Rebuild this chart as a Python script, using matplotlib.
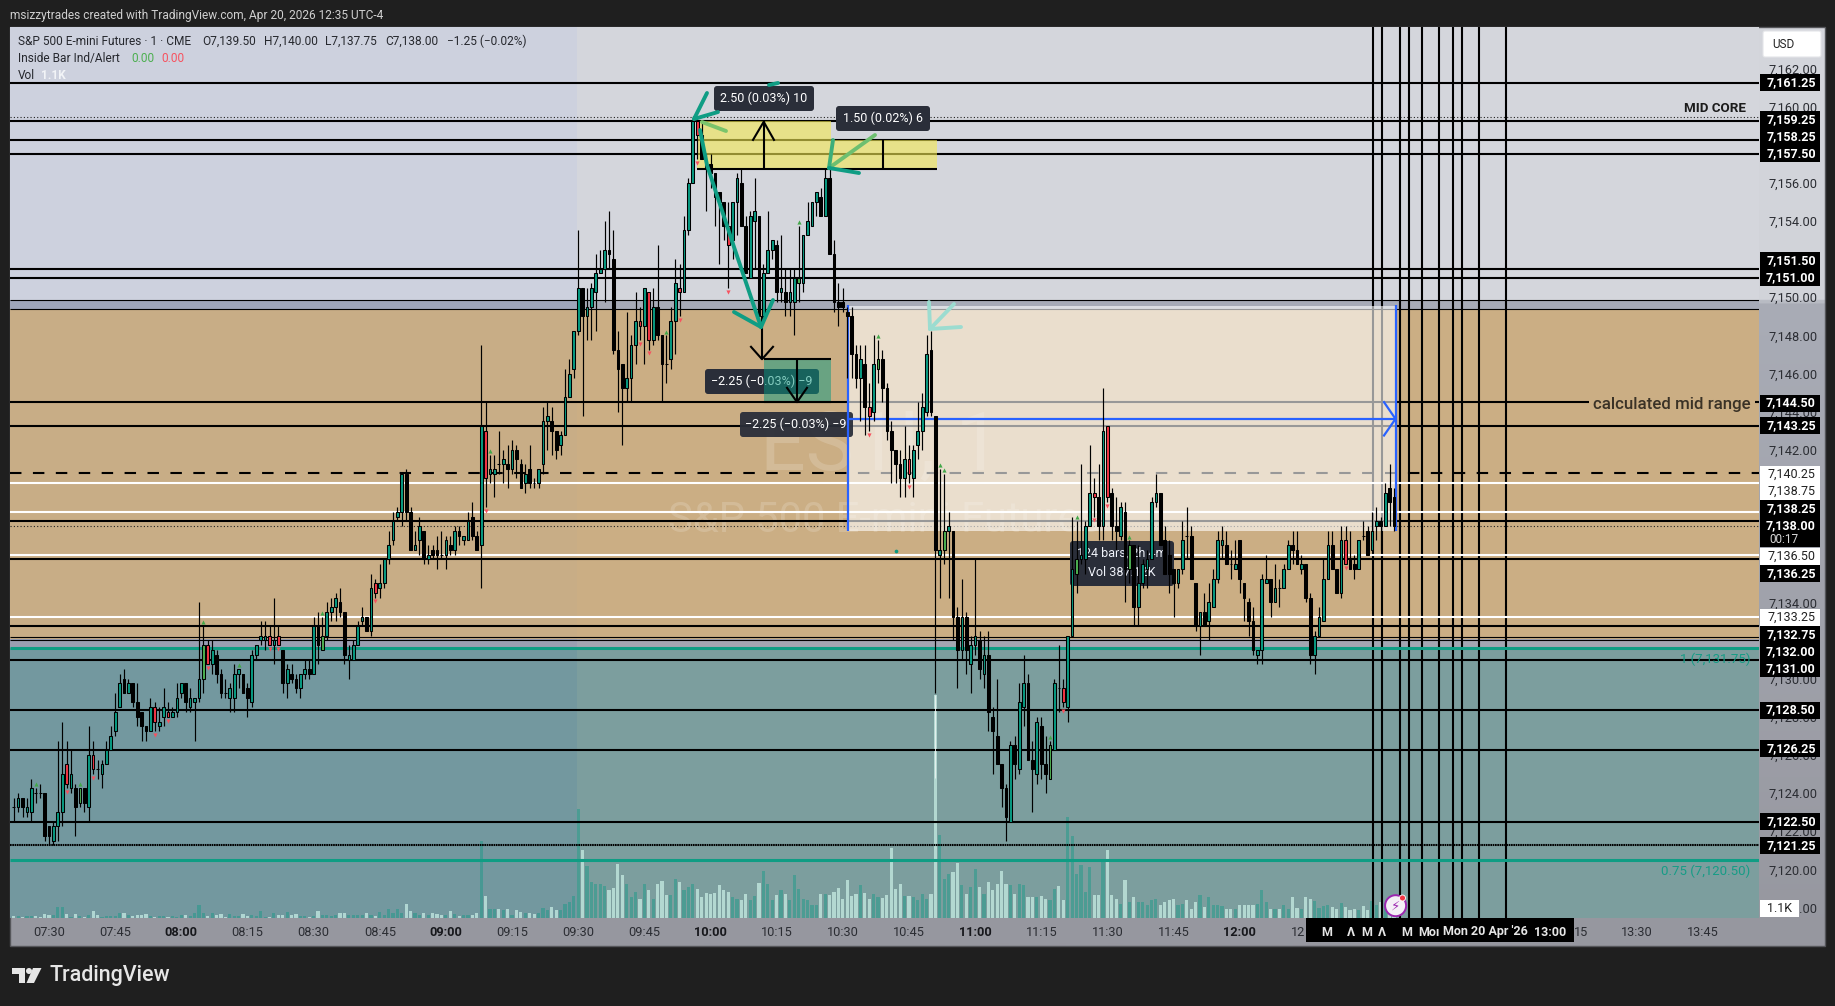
import numpy as np
import matplotlib
matplotlib.use('Agg')
import matplotlib.pyplot as plt
from matplotlib.colors import LinearSegmentedColormap
from matplotlib.patches import FancyBboxPatch, Polygon, Circle, Rectangle
from matplotlib.transforms import Affine2D

plt.rcParams['font.family'] = ['Roboto', 'DejaVu Sans']

W, H = 1835, 1006

# candles, one per minute from 07:22, prices above 7100
price_base = 7100
opens = [
    23.25,23.25,23.75,23.0,23.0,24.0,24.0,24.0,22.25,21.5,
    22.25,23.0,25.5,24.25,24.25,23.5,24.25,23.25,26.0,25.25,
    25.0,25.5,26.25,27.25,28.5,30.0,29.25,29.75,28.75,28.25,
    27.5,27.25,28.5,27.5,28.0,28.25,28.0,28.25,29.25,29.75,
    28.5,28.75,29.0,30.0,31.75,30.75,31.25,30.25,29.25,29.0,
    29.0,30.25,30.25,29.5,28.75,31.25,32.0,32.0,32.25,31.75,
    32.25,31.5,29.75,30.25,30.0,29.5,30.25,30.5,30.25,32.75,
    31.5,32.25,33.5,33.75,34.0,33.5,31.0,31.0,31.75,33.0,
    33.25,32.5,35.0,34.75,35.0,36.25,37.25,38.5,38.75,40.75,
    38.75,36.75,37.25,37.75,36.25,36.75,36.75,36.5,36.5,37.0,
    36.75,37.75,37.25,37.25,38.5,37.5,37.0,43.0,40.75,40.75,
    41.25,41.25,41.25,41.0,42.0,41.25,40.25,41.0,40.25,40.25,
    41.25,43.5,43.5,43.0,42.25,42.75,44.75,46.25,48.25,50.5,
    49.0,49.5,50.25,51.25,51.5,52.5,52.0,47.25,46.5,45.25,
    45.75,47.5,48.75,48.5,50.25,47.75,49.5,48.0,46.5,46.75,
    48.75,50.5,50.25,53.5,56.0,59.25,58.5,57.0,57.0,56.5,
    55.5,55.0,53.75,53.0,55.0,56.0,53.75,51.0,54.0,54.25,
    49.0,51.25,52.5,52.75,50.25,50.25,49.75,49.75,50.75,50.75,
    53.25,53.75,55.0,55.25,54.25,56.25,52.25,49.75,49.75,49.25,
    49.0,47.0,45.75,46.5,44.25,44.0,46.25,46.75,45.25,43.0,
    42.0,41.25,40.5,41.5,40.5,42.25,43.0,44.0,47.25,43.75,
    36.5,36.75,37.75,37.75,33.25,31.5,33.25,30.75,31.75,32.0,
    30.25,31.25,28.0,27.0,25.5,24.25,22.5,26.5,25.25,28.5,
    29.75,25.75,25.0,27.5,25.5,24.75,26.25,29.5,29.5,28.5,
    32.25,35.5,36.25,36.25,38.0,39.75,39.5,38.0,43.25,39.75,
    38.0,37.5,38.75,35.75,37.0,33.75,35.0,35.75,36.25,39.25,
    39.75,37.25,36.5,35.75,35.0,35.75,37.5,37.5,35.0,32.75,
    33.5,33.0,33.75,35.25,37.0,37.0,36.0,35.75,37.25,35.0,
    34.0,33.0,31.25,31.5,35.0,35.25,34.0,34.75,34.75,35.75,
    37.0,36.75,35.75,36.0,34.25,31.25,32.25,33.0,35.25,37.0,
    35.75,34.5,37.25,36.25,36.0,35.75,37.5,37.75,36.75,38.0,
    38.25,38.0,40.0,39.5]
highs = [
    23.75,24.0,23.75,23.75,24.75,24.25,24.5,24.0,22.25,22.5,
    26.75,27.75,26.75,26.25,24.5,24.25,24.25,27.5,26.75,25.75,
    25.75,26.75,27.5,29.25,30.25,30.5,30.0,29.75,29.75,28.25,
    27.5,29.0,28.75,28.5,29.5,28.75,28.5,29.75,29.75,29.75,
    29.5,29.0,34.0,32.75,32.0,32.0,31.5,30.5,30.0,29.75,
    30.75,30.5,30.25,29.75,31.5,31.75,33.0,33.0,32.75,34.25,
    32.75,31.5,30.75,30.75,30.25,30.25,31.0,31.0,33.25,33.5,
    33.25,34.0,34.25,34.5,34.75,33.5,31.75,32.0,33.0,33.75,
    33.25,35.5,35.25,36.0,36.25,37.75,38.75,39.0,40.75,41.0,
    39.0,37.75,38.5,37.75,37.0,37.0,37.5,37.75,37.5,37.5,
    38.0,38.0,37.5,38.75,39.25,37.75,47.5,44.5,41.75,41.75,
    43.0,42.0,42.25,42.5,42.25,41.5,41.25,42.25,40.5,41.0,
    44.25,44.5,44.25,43.0,43.0,46.25,46.75,48.25,53.5,50.5,
    50.5,50.75,52.25,52.5,54.0,54.5,53.5,48.25,46.5,49.25,
    48.0,50.25,49.5,50.5,50.25,50.5,52.75,48.0,48.0,49.5,
    52.0,51.75,54.25,56.25,59.5,59.5,59.25,57.5,57.5,56.5,
    55.5,55.0,55.0,55.0,56.5,56.75,54.25,54.5,56.25,54.25,
    51.75,54.5,53.0,53.0,53.25,51.5,51.5,51.5,53.75,53.25,
    55.0,55.0,55.5,55.75,56.75,56.75,53.0,50.75,50.5,49.5,
    49.5,47.5,47.5,47.5,45.5,48.0,47.75,47.25,45.5,43.5,
    42.0,42.0,43.25,42.25,42.25,44.5,45.0,48.0,48.25,43.75,
    41.0,40.75,38.75,37.75,33.75,35.25,33.5,32.25,36.25,32.5,
    32.25,32.5,28.5,30.0,25.5,24.5,26.75,27.0,29.75,31.25,
    30.25,26.75,28.0,28.0,27.0,26.75,30.0,31.75,30.0,32.25,
    38.5,38.25,41.25,38.25,42.25,40.5,41.25,45.25,43.25,40.0,
    39.5,39.25,39.25,37.25,37.0,37.0,36.25,36.75,39.5,40.75,
    39.75,38.0,37.25,35.75,35.75,38.25,39.0,38.0,35.0,33.5,
    34.5,35.0,35.75,37.75,38.0,37.75,36.75,37.25,37.25,35.0,
    34.25,33.75,31.5,35.5,36.5,35.25,36.0,35.25,36.0,37.25,
    37.75,37.75,36.5,36.0,34.5,32.5,33.75,36.25,37.75,37.75,
    35.75,38.0,38.0,37.75,36.5,37.25,38.25,38.0,38.75,39.0,
    38.5,40.25,41.25,40.0]
lows = [
    22.5,23.0,22.75,22.75,22.5,23.5,23.75,21.5,21.25,21.25,
    21.5,22.25,24.25,24.0,21.75,23.25,23.0,22.5,25.0,24.75,
    24.25,25.5,26.25,27.0,28.5,29.25,29.25,28.5,27.5,26.75,
    26.75,27.25,27.25,27.25,27.5,28.0,28.0,28.0,29.0,28.25,
    28.25,26.75,28.75,29.25,30.75,30.25,29.75,29.0,29.0,28.25,
    28.25,29.5,29.25,28.0,28.5,31.0,31.75,31.5,31.75,30.75,
    31.75,29.25,29.0,29.75,29.25,29.0,30.0,30.0,30.25,30.75,
    31.5,32.0,33.0,33.0,33.25,30.75,30.0,31.0,31.75,32.75,
    32.5,32.25,34.25,34.25,34.75,36.0,37.0,38.25,38.0,38.25,
    36.75,36.75,36.5,36.0,36.0,36.25,35.75,36.25,35.75,36.5,
    36.5,37.0,37.0,37.25,37.25,36.75,34.75,39.0,40.25,39.5,
    40.75,40.25,40.0,40.75,40.5,40.0,39.75,40.0,40.0,40.0,
    40.75,42.0,41.75,41.5,41.75,42.75,44.75,45.75,48.0,43.75,
    47.75,47.75,48.25,51.25,49.75,51.5,47.0,44.0,42.25,44.5,
    44.5,46.5,47.75,46.5,47.25,47.5,47.75,44.5,45.5,46.25,
    47.0,49.0,50.25,53.25,56.0,57.25,57.25,54.5,55.75,53.75,
    51.75,53.0,50.5,52.0,53.25,53.75,51.25,51.0,51.5,49.0,
    48.75,51.25,52.0,49.75,49.75,49.0,49.0,48.0,49.75,50.25,
    53.25,53.75,54.25,54.25,54.25,52.25,49.25,48.5,49.25,45.75,
    45.75,45.25,43.5,42.75,43.0,43.5,45.5,44.5,42.5,40.25,
    40.25,39.5,39.5,40.25,39.5,41.5,42.0,43.75,43.75,29.25,
    34.25,36.0,34.25,32.0,29.5,31.0,30.25,29.25,31.25,30.0,
    29.5,27.25,25.0,25.5,23.25,21.5,22.5,24.75,25.0,27.5,
    25.75,23.0,24.5,24.75,24.0,24.75,26.25,28.25,28.5,27.75,
    32.25,34.5,36.0,35.5,38.0,38.5,37.25,37.25,39.25,37.25,
    36.75,37.25,34.0,35.0,32.75,32.75,34.75,34.75,36.25,39.0,
    37.0,35.5,34.5,33.25,34.75,35.5,36.25,35.25,32.5,31.25,
    32.75,32.0,33.75,35.0,36.25,36.0,35.25,35.75,34.5,33.0,
    32.25,31.25,30.75,30.75,35.0,33.25,34.0,33.75,34.75,35.75,
    36.0,36.0,35.5,34.0,30.75,30.25,32.25,33.0,35.25,35.75,
    34.5,34.25,36.0,35.75,35.25,35.75,37.25,36.5,36.75,37.25,
    36.75,38.0,38.0,37.75]
closes = [
    23.25,23.75,23.25,23.25,24.25,24.0,24.0,21.75,21.75,22.25,
    23.0,25.0,24.5,25.0,23.25,24.25,23.5,26.0,25.25,25.25,
    25.5,26.25,27.0,28.25,29.75,29.25,29.75,28.75,28.0,27.5,
    27.25,28.5,27.75,27.75,28.5,28.0,28.25,29.0,29.75,28.75,
    29.0,29.0,30.0,31.75,30.75,31.5,30.25,29.25,29.25,29.5,
    30.25,30.5,29.25,29.0,31.25,31.75,32.25,32.25,31.75,32.0,
    31.75,29.75,30.5,30.0,29.5,30.25,30.5,30.25,32.75,31.75,
    32.25,33.5,33.75,34.25,33.5,31.25,31.25,31.75,32.75,33.25,
    32.5,34.75,34.5,35.0,36.25,37.0,38.25,38.75,40.75,38.75,
    36.75,37.0,38.0,36.25,36.5,36.5,36.5,36.5,37.25,36.75,
    37.75,37.5,37.5,38.25,37.5,36.75,43.25,40.5,41.0,41.0,
    41.25,41.5,41.0,42.0,41.5,40.0,40.75,40.25,40.25,41.0,
    43.5,43.75,43.0,42.0,42.75,44.75,46.0,48.25,50.5,49.0,
    49.5,50.5,51.25,51.5,52.5,52.25,47.25,46.25,45.25,45.75,
    47.5,48.75,48.5,50.5,47.75,49.5,48.0,46.5,46.5,48.75,
    50.75,50.25,53.5,56.0,59.25,58.5,57.25,56.75,56.5,55.25,
    55.0,53.75,52.75,55.0,56.25,53.75,51.25,54.25,54.5,49.0,
    51.25,52.5,53.0,50.25,50.5,49.75,50.25,51.0,51.0,53.25,
    54.0,55.0,55.5,54.25,56.25,52.25,49.75,49.5,49.5,49.0,
    47.0,45.75,46.75,44.25,43.75,46.5,46.75,45.25,43.0,42.0,
    41.25,40.5,41.5,40.75,42.0,43.0,44.25,47.0,44.0,36.75,
    36.75,37.75,38.0,33.25,31.5,33.25,31.5,31.75,32.25,30.5,
    31.25,28.25,27.25,25.5,24.25,22.75,26.5,25.5,28.75,29.75,
    25.75,25.25,27.75,25.5,25.0,26.5,29.75,29.5,28.75,32.25,
    35.75,36.25,36.5,38.0,39.75,39.5,38.0,43.0,39.5,38.0,
    37.75,39.0,35.75,37.0,33.75,35.0,36.0,36.25,39.25,39.75,
    37.0,35.5,35.5,35.0,35.75,37.25,37.5,35.25,32.75,33.5,
    32.75,34.0,35.25,37.25,37.25,36.0,36.0,36.0,35.25,34.25,
    33.0,31.5,31.5,35.25,35.25,34.0,34.75,34.75,35.75,37.0,
    36.75,36.0,36.0,34.25,31.25,32.25,33.25,35.25,37.0,35.75,
    34.5,37.25,36.0,35.75,35.75,37.25,37.5,36.5,37.75,38.25,
    38.0,39.75,39.25,38.0]
# thousands of contracts
volumes = [
    .2,.2,.16,.24,.2,.24,.16,.48,.4,.32,
    1.28,1.28,.48,.16,.48,.24,.16,.32,.88,.32,
    .16,.24,.2,.24,.56,.56,.4,.2,.32,.4,
    .48,.24,.16,.24,.2,.16,.24,.16,.32,.32,
    .24,.56,1.6,.56,.2,.56,.32,.48,.16,.48,
    .24,.24,.48,.2,.32,.24,.88,.16,.16,.64,
    .4,.32,.72,.4,.48,.24,.24,.16,.24,.88,
    .4,.32,.24,.4,.56,.64,.32,.4,.4,.4,
    .64,.4,.24,.72,.32,1.12,.56,1.12,.56,1.68,
    .8,.56,.4,.56,.32,.56,.48,.32,.32,.8,
    .48,.24,.4,.4,.4,.56,9.2,2.6,1.12,1.04,
    1.12,.96,1.04,.4,.96,.72,.56,.56,.48,.6,
    1.2,1.0,1.32,.92,.92,1.64,1.92,2.6,13.12,8.12,
    6.2,4.28,4.04,4.04,3.88,3.4,3.56,6.52,5.12,4.12,
    2.52,3.12,2.32,4.04,3.4,2.32,4.04,4.4,2.72,2.8,
    4.64,4.32,3.4,3.72,4.12,3.52,2.52,3.04,2.84,3.04,
    3.92,3.32,3.12,2.52,2.24,2.12,2.92,2.12,2.6,4.24,
    5.6,4.12,2.12,2.72,3.32,2.92,2.12,5.12,3.52,2.32,
    2.2,1.52,1.52,2.92,2.92,2.72,3.12,3.6,2.32,4.52,
    2.64,2.92,3.92,3.0,2.32,2.92,2.52,2.4,2.72,8.4,
    3.52,4.04,2.6,2.6,2.52,2.12,2.92,2.32,2.84,26.72,
    9.92,4.72,5.32,5.52,6.64,3.92,2.92,3.72,5.84,3.72,
    2.92,4.32,3.32,4.12,5.6,4.12,3.92,2.92,4.12,3.92,
    2.52,2.52,2.52,2.6,2.32,2.12,3.52,3.8,2.12,12.12,
    9.8,5.32,6.32,3.12,6.12,2.72,2.72,6.72,8.12,2.72,
    2.32,1.72,4.52,1.92,2.52,1.92,1.92,1.6,2.12,2.32,
    1.52,1.92,2.12,2.32,1.52,1.72,2.12,1.12,1.92,2.8,
    1.32,2.52,1.52,1.6,1.44,1.12,1.12,1.12,1.52,1.6,
    1.52,1.52,1.72,3.32,1.92,1.12,1.12,1.12,1.52,1.12,
    2.52,1.24,1.08,2.52,2.32,2.0,1.2,1.4,1.52,1.32,
    1.12,1.84,1.32,1.0,1.12,.92,1.4,1.0,2.0,1.6,
    1.92,1.8,1.6,1.1]

red_bars = [12,18,32,35,44,58,60,82,107,142,144,151,155,162,194,203,238,245,248,302]
green_bars = [15,43,70,178,196,211,235,241,253]
green_marks = [5,15,43,51,70,108,148,178,196,210,211,235,241,253]

black_levels = [7161.25,7159.25,7158.25,7157.50,7151.50,7151.00,7144.50,7143.25,7138.25,
                7136.25,7132.75,7131.00,7128.35,7126.25,7122.50]
thin_levels = [7149.85,7149.37,7132.17,7132.00]
white_levels = [7140.25,7138.75,7136.50,7133.25]
teal_levels = [7131.60,7120.50]
tick_prices = [7162,7160,7156,7154,7150,7148,7146,7144,7142,7134,7130,7128,7126,7124,7122,7120,7118]

badge_prices = [7161.25,7159.25,7158.25,7157.50,7151.50,7151.00,7144.50,7143.25,7140.25,7138.75,
                7138.25,7138.00,7136.50,7136.25,7133.25,7132.75,7132.00,7131.00,7128.50,7126.25,
                7122.50,7121.25]
white_badges = [7140.25,7138.75,7136.50,7133.25]
# labels under the crosshair strip stay blank, its pieces are placed further down
time_labels = ['07:30','07:45','08:00','08:15','08:30','08:45','09:00','09:15','09:30','09:45',
               '10:00','10:15','10:30','10:45','11:00','11:15','11:30','11:45','12:00','',
               '','','','','13:30','13:45']
vline_bars = [308.2,310.3,314.3,316.4,319.3,323.2,326.4,328.4,332.2,338.4]

# pixel layout of the screenshot
bar0_x, bar_w = 13.72, 4.41
p0_y, p_h = 82.7, 19.07
L, R, T, B = 10, 1759, 27, 918
badge_y = [82.7,119.7,136.7,153.7,260.7,277.7,403,425.7,474.7,491.7,508.7,525.7,556.3,573.7,
           617.7,634.7,651.7,668.7,710,748.7,821.7,845.7]


def bar_at(x):
    return (x - bar0_x) / bar_w


def price_at(y):
    return 7161.25 - (y - p0_y) / p_h


px = Affine2D().scale(1, -1).translate(0, H)
fig = plt.figure(figsize=(W / 100, H / 100), dpi=100, facecolor='#1f1f1f')

# outer panel, light above the tan zone and grey below it
ax_panel = fig.add_axes([L / W, 1 - 946 / H, 1814 / W, 919 / H], zorder=-2)
cm = LinearSegmentedColormap.from_list('panel', [(0, '#d4d6dc'), (0.295, '#d1d3d9'), (0.3, '#a9acb6'), (1, '#96979f')])
ax_panel.imshow(np.linspace(0, 1, 512).reshape(-1, 1), cmap=cm, aspect='auto')
ax_panel.axis('off')
fig.add_artist(Rectangle((9.5, 26.5), 1815, 919.5, transform=px, fill=False, ec='#55565a', lw=1, zorder=-1))

rect = [L / W, 1 - B / H, (R - L) / W, (B - T) / H]
xlim = (bar_at(L), bar_at(R))
ylim = (price_at(B), price_at(T))

# chart background zones, session tint on the left
ax_bg = fig.add_axes(rect, zorder=0)
ax_bg.set_xlim(xlim)
ax_bg.set_ylim(ylim)
ax_bg.axis('off')
session_start = bar_at(576.5)
zones = [(ylim[1], 7149.85, '#cdd1de', '#d4d6dc'),
         (7149.85, 7149.37, '#9fa6ba', '#a7abb7'),
         (7149.37, 7132.1, '#c8ad86', '#cbae84'),
         (7132.1, 7131.6, '#9a9fb2', '#a3a6b2'),
         (7131.6, ylim[0], '#73989f', '#7c9e9e')]
for top, bot, left_c, right_c in zones:
    ax_bg.add_patch(Rectangle((xlim[0], bot), session_start - xlim[0], top - bot, fc=left_c, lw=0))
    ax_bg.add_patch(Rectangle((session_start, bot), xlim[1] - session_start, top - bot, fc=right_c, lw=0))
ax_bg.text(880, 448, 'ES1!, 1', transform=px, fontsize=58, color='white', alpha=0.17, ha='center', va='center')
ax_bg.text(884, 520, 'S&P 500 E-mini Futures', transform=px, fontsize=30, color='white', alpha=0.17, ha='center', va='center')

x = np.arange(len(opens))
o = np.array(opens) + price_base
h = np.array(highs) + price_base
l = np.array(lows) + price_base
c = np.array(closes) + price_base
v = np.array(volumes)

# volume pane under the candles
ax_vol = fig.add_axes(rect, zorder=1)
ax_vol.set_xlim(xlim)
ax_vol.set_ylim(0, (B - T) * 0.12)
ax_vol.axis('off')
for xi, vi, op, cl in zip(x, v, o, c):
    if cl <= op:
        ax_vol.bar(xi, vi, width=0.72, color='#c9efe6', alpha=0.72, lw=0)
    else:
        ax_vol.bar(xi, vi, width=0.72, color='#0b9a84', alpha=0.42, lw=0)

ax = fig.add_axes(rect, zorder=2)
ax.patch.set_alpha(0)
ax.set_xlim(xlim)
ax.set_ylim(ylim)
for s in ax.spines.values():
    s.set_visible(False)

# horizontal and vertical drawings
ax.hlines(black_levels, xlim[0], xlim[1], color='black', lw=1.5, zorder=2)
ax.hlines(thin_levels, xlim[0], xlim[1], color='black', lw=0.8, zorder=2)
ax.hlines(7159.47, xlim[0], xlim[1], color='#222222', lw=0.8, linestyles=(0, (1, 2)), zorder=2)
ax.hlines(7121.25, xlim[0], xlim[1], color='black', lw=1.5, linestyles=(0, (0.8, 0.3)), zorder=2)
ax.hlines(7140.8, xlim[0], xlim[1], color='black', lw=1.5, linestyles=(0, (5.5, 5.5)), zorder=2)
ax.hlines(7138.0, xlim[0], xlim[1], color='#222222', lw=0.8, linestyles=(0, (1, 2)), zorder=2)
ax.vlines(vline_bars, ylim[0], ylim[1], color='black', lw=1.5, zorder=2)

# shaded long box, whitens what is below it
box_left, box_right = bar_at(848), bar_at(1395.5)
ax.add_patch(Rectangle((box_left, 7137.75), box_right - box_left, 7149.55 - 7137.75, fc='white', alpha=0.6, lw=0, zorder=3))
ax.hlines(white_levels, xlim[0], xlim[1], color='white', lw=1.5, zorder=3.1)
ax.hlines(teal_levels, xlim[0], xlim[1], color='#0f9d84', lw=2.2, zorder=3.1)

# yellow range boxes
ax.add_patch(Rectangle((bar_at(697), 7156.75), bar_at(831) - bar_at(697), 7159.25 - 7156.75, fc='#f5ea53', alpha=0.6, lw=0, zorder=3.2))
ax.add_patch(Rectangle((bar_at(831), 7156.75), bar_at(937) - bar_at(831), 7158.25 - 7156.75, fc='#f5ea53', alpha=0.6, lw=0, zorder=3.2))
ax.hlines(7156.75, bar_at(697), bar_at(937), color='black', lw=1.5, zorder=3.3)
ax.vlines(bar_at(763.7), 7156.75, 7159.25, color='black', lw=1.5, zorder=3.3)
ax.vlines(bar_at(883), 7156.75, 7158.25, color='black', lw=1.5, zorder=3.3)
ax.plot([bar_at(753), bar_at(763.7), bar_at(774)], [7158.25, 7159.2, 7158.25], color='black', lw=1.5, zorder=3.3)

# blue long position outline
blue = '#2962ff'
ax.vlines([box_left, box_right], 7137.75, 7149.6, color=blue, lw=1.6, zorder=3.4)
ax.hlines(7143.62, box_left, box_right, color=blue, lw=1.6, zorder=3.4)
ax.plot([bar_at(1384), box_right, bar_at(1384)], [7144.5, 7143.62, 7142.75], color=blue, lw=1.6, zorder=3.4)


def tooltip(x0, y0, x1, y1, zorder, alpha=1.0):
    ax.add_patch(FancyBboxPatch((x0 + 3, y0 + 3), x1 - x0 - 6, y1 - y0 - 6, boxstyle='round,pad=3', transform=px,
                                fc='#2a2e39', ec='none', alpha=alpha, zorder=zorder, clip_on=False))


# bars tooltip stays under the candles
tooltip(1070, 541, 1174, 586, 3.5)
ax.text(1122, 553, '124 bars, 2h 4m', transform=px, color='#f0f3fa', fontsize=9, ha='center', va='center', zorder=3.6)
ax.text(1122, 573, 'Vol 387.12K', transform=px, color='#f0f3fa', fontsize=9, ha='center', va='center', zorder=3.6)

# candles
body_colors = []
for i in x:
    if i in red_bars:
        body_colors.append('#f23645')
    elif i in green_bars:
        body_colors.append('#4caf50')
    elif c[i] >= o[i]:
        body_colors.append('#089981')
    else:
        body_colors.append('black')
ax.vlines(x, l, h, color='black', lw=0.85, zorder=4)
ax.bar(x, np.abs(c - o), bottom=np.minimum(o, c), width=0.62, color=body_colors, edgecolor='black', linewidth=0.75, zorder=4.1)
ax.scatter(green_marks, h[green_marks] + 0.2, marker='^', s=9, color='#43a84a', lw=0, zorder=4.2)
ax.scatter(red_bars, l[red_bars] - 0.2, marker='v', s=9, color='#f7525f', lw=0, zorder=4.2)
ax.scatter([bar_at(896.3)], [price_at(551)], marker='o', s=7, color='#089981', lw=0, zorder=4.2)
# the bright part of the big volume bar
ax.vlines(209, price_at(778), price_at(695), color='#eef4f3', lw=0.6, zorder=4.3)

# measure tooltips
tooltip(714, 86, 814, 111, 5)
ax.text(764, 98.5, '2.50 (0.03%) 10', transform=px, color='white', fontsize=9, ha='center', va='center', zorder=5.1)
tooltip(836, 106, 930, 131, 5)
ax.text(883, 118.5, '1.50 (0.02%) 6', transform=px, color='white', fontsize=9, ha='center', va='center', zorder=5.1)
tooltip(705, 369, 819, 394, 5)
ax.text(762, 381.5, '\u22122.25 (\u22120.03%) \u22129', transform=px, color='white', fontsize=9, ha='center', va='center', zorder=5.1)
tooltip(740, 412, 853, 437, 3.2, alpha=0.95)
ax.text(796, 424.5, '\u22122.25 (\u22120.03%) \u22129', transform=px, color='white', fontsize=9, ha='center', va='center', zorder=3.25)

# green measured move
ax.add_patch(Rectangle((bar_at(763.7), 7144.5), bar_at(831) - bar_at(763.7), 7146.75 - 7144.5, fc='#089981', alpha=0.5, lw=0, zorder=5.2))
ax.hlines([7144.5, 7146.75], bar_at(763.7), bar_at(831), color='black', lw=1.5, zorder=5.3)
ax.vlines(bar_at(797), 7144.5, 7146.75, color='black', lw=1.5, zorder=5.3)
ax.plot([bar_at(787), bar_at(797), bar_at(807)], [7145.25, 7144.5, 7145.25], color='black', lw=1.5, zorder=5.3)
ax.vlines(bar_at(762), 7146.75, 7149.0, color='black', lw=1.5, zorder=5.3)
ax.plot([bar_at(751), bar_at(762), bar_at(773)], [7147.4, 7146.75, 7147.4], color='black', lw=1.5, zorder=5.3)

# hand drawn arrows, screen pixels
strokes = [
    ([(694, 119), (707, 93)], '#0f9d84'),
    ([(694, 119), (718, 112)], '#0f9d84'),
    ([(702, 122), (726, 131)], '#7ac46b'),
    ([(700, 130), (707, 165), (734, 247), (761, 327)], '#0f9d84'),
    ([(734, 312), (761, 327)], '#0f9d84'),
    ([(773, 300), (761, 327)], '#0f9d84'),
    ([(875, 135), (829, 168)], '#6dbf70'),
    ([(833, 140), (829, 168)], '#3cae7a'),
    ([(859, 173), (829, 168)], '#0f9d84'),
    ([(954, 304), (930, 329)], '#9cdcd0'),
    ([(929, 302), (930, 329)], '#9cdcd0'),
    ([(961, 327), (930, 329)], '#9cdcd0'),
    ([(769, 85), (778, 83)], '#0f9d84'),
]
for pts, col in strokes:
    ax.plot([p[0] for p in pts], [p[1] for p in pts], transform=px, color=col, lw=2.8, solid_capstyle='round', zorder=6, clip_on=False)

# labels inside the chart
ax.text(1746, 108, 'MID CORE', transform=px, fontsize=9.6, fontweight='bold', color='#1c1c1c', ha='right', va='center', zorder=6)
ax.text(1750.5, 404, 'calculated mid range', transform=px, fontsize=12.2, fontweight='medium', color='#3a3226', ha='right', va='center',
        zorder=6, bbox=dict(fc='#cbae84', ec='none', pad=3))
ax.text(1750.5, 659.7, '1 (7,131.75)', transform=px, fontsize=9.5, color='#169c86', ha='right', va='center', zorder=6)
ax.text(1750.5, 871.7, '0.75 (7,120.50)', transform=px, fontsize=9.5, color='#169c86', ha='right', va='center', zorder=6)

# axes
ax.yaxis.tick_right()
ax.set_yticks(tick_prices)
ax.set_yticklabels([f'{p:,.2f}' for p in tick_prices], fontsize=9.2, color='#2b2d33')
ax.tick_params(axis='y', length=0, pad=6.5)
ax.set_xticks(np.arange(len(time_labels)) * 15 + 8)
ax.set_xticklabels(time_labels, fontsize=9.2, color='#2b2d33')
for lab in ax.get_xticklabels():
    if lab.get_text().endswith(':00'):
        lab.set_fontweight('bold')
        lab.set_color('#17181c')
ax.tick_params(axis='x', length=0, pad=6)

# price badges on the axis
for p, y in zip(badge_prices, badge_y):
    white = p in white_badges
    fig.add_artist(Rectangle((1760, y - 8.5), 60, 17, transform=px, fc='white' if white else 'black', lw=0, zorder=5))
    fig.text(1791, y, f'{p:,.2f}', transform=px, fontsize=9, color='#222222' if white else 'white',
             fontweight='normal' if white else 'bold', ha='center', va='center', zorder=6)
fig.add_artist(Rectangle((1760, 534), 60, 13, transform=px, fc='black', lw=0, zorder=5))
fig.text(1769, 539.5, '00:17', transform=px, fontsize=8.5, color='#d8d8d8', ha='left', va='center', zorder=6)
fig.add_artist(Rectangle((1760, 900), 39, 17, transform=px, fc='white', lw=0, zorder=5))
fig.text(1779.5, 908, '1.1K', transform=px, fontsize=9, color='#222222', ha='center', va='center', zorder=6)
fig.add_artist(FancyBboxPatch((1765, 33), 54, 22, boxstyle='round,pad=2', transform=px, fc='white', ec='#e4e5e8', lw=0.8, zorder=5))
fig.text(1772, 45, 'USD', transform=px, fontsize=8.5, color='#222222', ha='left', va='center', zorder=6)

# time labels cut by the black crosshair strip, only their visible ends
fig.text(1298, 932, '12', transform=px, fontsize=9.2, color='#2b2d33', ha='center', va='center', zorder=4)
fig.text(1581, 932, '15', transform=px, fontsize=9.2, color='#2b2d33', ha='center', va='center', zorder=4)
fig.add_artist(Rectangle((1306, 918), 268, 24, transform=px, fc='black', lw=0, zorder=5))
for tx, frag in [(1327, 'M'), (1351, '\u039b'), (1367, 'M'), (1382, '\u039b'), (1407, 'M'), (1429, 'Mo\u0131')]:
    fig.text(tx, 932, frag, transform=px, fontsize=9, color='#e6e6e6', fontweight='bold', ha='center', va='center', zorder=6)
fig.text(1485, 932, "Mon 20 Apr '26", transform=px, fontsize=9, color='#e6e6e6', fontweight='bold', ha='center', va='center', zorder=6)
fig.text(1550.5, 932, '13:00', transform=px, fontsize=9, color='#e6e6e6', fontweight='bold', ha='center', va='center', zorder=6)

# purple alert icon
fig.add_artist(Circle((1395.6, 905.7), 10.5, transform=px, fc='#f4f0f6', ec='#9c27b0', lw=1.4, zorder=5))
fig.text(1395.6, 906, '\u26a1', transform=px, family='DejaVu Sans', fontsize=9.5, color='#9c27b0', ha='center', va='center', zorder=6)
fig.add_artist(Circle((1402.5, 898), 3, transform=px, fc='#f23645', ec='white', lw=0.6, zorder=7))

# header and legend
fig.text(10, 15, 'msizzytrades created with TradingView.com, Apr 20, 2026 12:35 UTC-4', transform=px, fontsize=8.6, color='#cfcfcf', va='center', zorder=6)
legend_dark = '#26282e'
for tx, s in [(18, 'S&P 500 E-mini Futures \u00b7 1 \u00b7 CME'), (202, 'O7,139.50'), (264, 'H7,140.00'),
              (325, 'L7,137.75'), (385.5, 'C7,138.00'), (447, '\u22121.25 (\u22120.02%)')]:
    fig.text(tx, 41.7, s, transform=px, fontsize=8.6, color=legend_dark, va='center', zorder=6)
fig.text(18, 58.7, 'Inside Bar Ind/Alert', transform=px, fontsize=8.6, color=legend_dark, va='center', zorder=6)
fig.text(131, 58.7, '0.00', transform=px, fontsize=8.6, color='#4caf50', va='center', zorder=6)
fig.text(161, 58.7, '0.00', transform=px, fontsize=8.6, color='#f7525f', va='center', zorder=6)
fig.text(18, 75.7, 'Vol', transform=px, fontsize=8.6, color=legend_dark, va='center', zorder=6)
fig.text(41.5, 75.7, '1.1K', transform=px, fontsize=8.6, color='#f2f4f7', fontweight='bold', va='center', zorder=6)

# TradingView logo at the bottom
logo = '#e6e6e6'
fig.add_artist(Polygon([(12, 968), (25, 968), (25, 983), (19, 983), (19, 974), (12, 974)], transform=px, fc=logo, lw=0, zorder=6))
fig.add_artist(Circle((29, 971), 3, transform=px, fc=logo, lw=0, zorder=6))
fig.add_artist(Polygon([(33, 968), (41.5, 968), (34, 983), (26.5, 983)], transform=px, fc=logo, lw=0, zorder=6))
fig.text(49, 976, 'TradingView', transform=px, fontsize=15.5, fontweight='medium', color=logo, va='center', zorder=6)

fig.savefig('out.png', dpi=100, facecolor=fig.get_facecolor())
